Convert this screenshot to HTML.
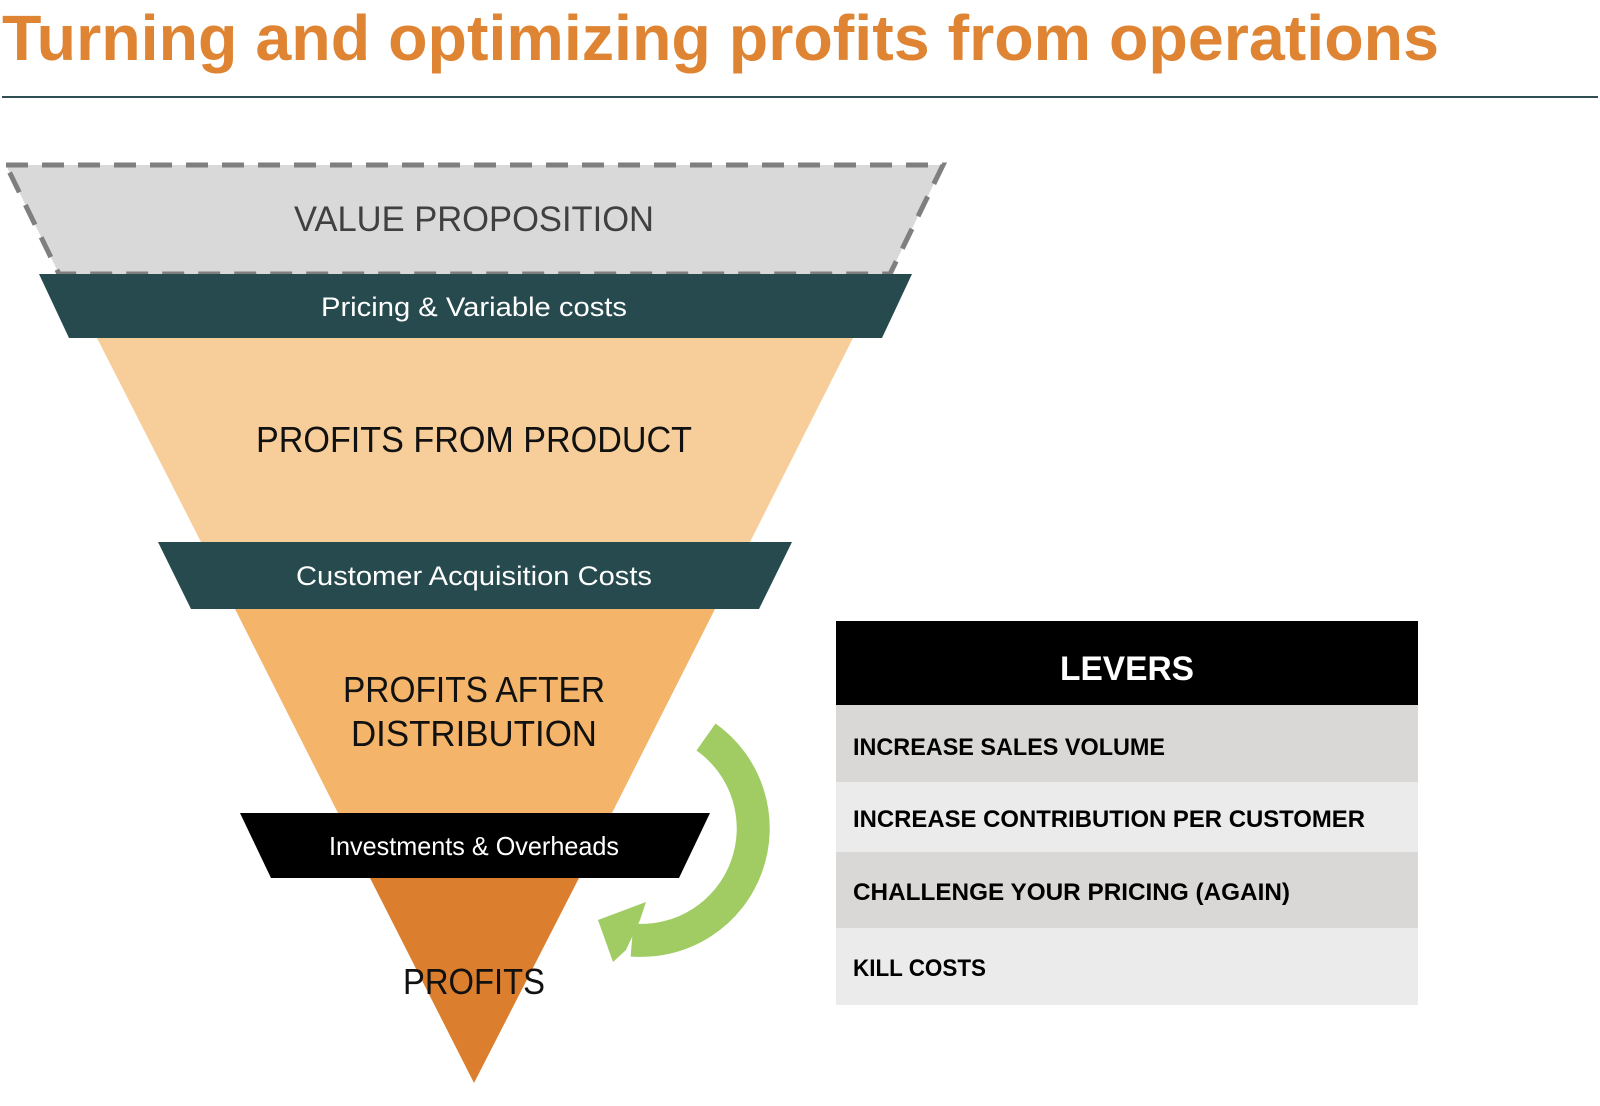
<!DOCTYPE html>
<html><head><meta charset="utf-8"><style>
html,body{margin:0;padding:0;background:#fff;}
svg{display:block;}
text{font-family:"Liberation Sans",sans-serif;}
</style></head><body>
<svg width="1600" height="1106" viewBox="0 0 1600 1106" xmlns="http://www.w3.org/2000/svg">
<text x="2" y="60" font-size="64" font-weight="bold" fill="#DF8432" textLength="1437" lengthAdjust="spacingAndGlyphs">Turning and optimizing profits from operations</text>
<rect x="2" y="96" width="1596" height="2" fill="#2F4F55"/>

<polygon points="6,165 943,165 890,274 59,274" fill="#D9D9D9" stroke="#7F7F7F" stroke-width="5" stroke-dasharray="22,14"/>
<text x="474" y="231" font-size="35" fill="#404040" text-anchor="middle" textLength="360" lengthAdjust="spacingAndGlyphs">VALUE PROPOSITION</text>

<polygon points="97,338 853,338 750,542 201,542" fill="#F7CE9A"/>
<polygon points="39,274 912,274 882,338 69,338" fill="#264A4E"/>
<text x="474" y="316" font-size="27" fill="#fff" text-anchor="middle" textLength="306" lengthAdjust="spacingAndGlyphs">Pricing &amp; Variable costs</text>
<text x="474" y="452" font-size="36" fill="#111" text-anchor="middle" textLength="436" lengthAdjust="spacingAndGlyphs">PROFITS FROM PRODUCT</text>

<polygon points="235,609 715,609 612,813 338,813" fill="#F4B469"/>
<polygon points="158,542 792,542 759,609 191,609" fill="#264A4E"/>
<text x="474" y="585" font-size="27" fill="#fff" text-anchor="middle" textLength="356" lengthAdjust="spacingAndGlyphs">Customer Acquisition Costs</text>
<text x="474" y="702" font-size="36" fill="#111" text-anchor="middle" textLength="262" lengthAdjust="spacingAndGlyphs">PROFITS AFTER</text>
<text x="474" y="746" font-size="36" fill="#111" text-anchor="middle" textLength="246" lengthAdjust="spacingAndGlyphs">DISTRIBUTION</text>

<polygon points="370,878 579,878 474,1083" fill="#DB7F2F"/>
<polygon points="240,813 710,813 679,878 271,878" fill="#000"/>
<text x="474" y="855" font-size="26" fill="#fff" text-anchor="middle" textLength="290" lengthAdjust="spacingAndGlyphs">Investments &amp; Overheads</text>
<text x="474" y="994" font-size="36" fill="#111" text-anchor="middle" textLength="142" lengthAdjust="spacingAndGlyphs">PROFITS</text>

<path d="M 706,737 A 112,112 0 0 1 632,940" fill="none" stroke="#A0CC63" stroke-width="33"/>
<polygon points="646,902 598,920 613,962 626,950 640,920" fill="#A0CC63"/>

<rect x="836" y="621" width="582" height="84" fill="#000"/>
<rect x="836" y="705" width="582" height="77" fill="#D9D8D6"/>
<rect x="836" y="782" width="582" height="70" fill="#EBEBEB"/>
<rect x="836" y="852" width="582" height="76" fill="#D9D8D6"/>
<rect x="836" y="928" width="582" height="77" fill="#EBEBEB"/>
<text x="1127" y="680" font-size="34" font-weight="bold" fill="#fff" text-anchor="middle" textLength="134" lengthAdjust="spacingAndGlyphs">LEVERS</text>
<text x="853" y="755" font-size="24" font-weight="bold" fill="#000" textLength="312" lengthAdjust="spacingAndGlyphs">INCREASE SALES VOLUME</text>
<text x="853" y="827" font-size="24" font-weight="bold" fill="#000" textLength="512" lengthAdjust="spacingAndGlyphs">INCREASE CONTRIBUTION PER CUSTOMER</text>
<text x="853" y="900" font-size="24" font-weight="bold" fill="#000" textLength="437" lengthAdjust="spacingAndGlyphs">CHALLENGE YOUR PRICING (AGAIN)</text>
<text x="853" y="976" font-size="24" font-weight="bold" fill="#000" textLength="133" lengthAdjust="spacingAndGlyphs">KILL COSTS</text>
</svg>
</body></html>
